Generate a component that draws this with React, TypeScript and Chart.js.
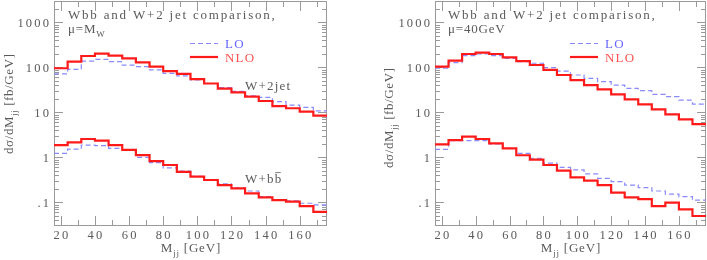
import React, { useEffect, useRef } from "react";
import { Chart, registerables } from "chart.js";
Chart.register(...registerables);

// ---------- data ----------
const binEdges = [16, 24, 32, 40, 48, 56, 64, 72, 80, 88, 96, 104, 112, 120, 128, 136, 144, 152, 160, 168, 176];
const xMajorTicks = [20, 40, 60, 80, 100, 120, 140, 160];
const xMinorTicks = [30, 50, 70, 90, 110, 130, 150, 170];
const yTickValues = [0.1, 1, 10, 100, 1000];
const yTickLabels = [".1", "1", "10", "100", "1000"];

// mu = M_W panel
const nloJetMW = [96, 135, 180, 203, 183, 160, 130, 104, 83, 72, 55, 44, 34, 28, 22.4, 18, 13.9, 12.4, 10.4, 8.5];
const loJetMW = [72, 91, 139, 152, 135, 113, 104, 88, 74, 65, 53, 44, 35.5, 29.5, 23.4, 21.7, 17.4, 14.6, 13, 10.8];
const nloBbMW = [1.89, 2.17, 2.57, 2.36, 1.89, 1.47, 1.13, 0.83, 0.68, 0.48, 0.374, 0.316, 0.244, 0.206, 0.16, 0.13, 0.113, 0.104, 0.083, 0.062];
const loBbMW = [1.23, 1.54, 1.89, 1.83, 1.6, 1.45, 1.0, 0.77, 0.59, 0.5, 0.38, 0.32, 0.26, 0.21, 0.18, 0.135, 0.113, 0.108, 0.096, 0.088];

// mu = 40 GeV panel
const nloJet40 = [104, 142, 199, 213, 199, 168, 139, 113.5, 88, 68, 52.6, 40.7, 32.7, 25.3, 19.6, 15.2, 11.7, 9.1, 7.0, 5.5];
const loJet40 = [96, 128, 183, 199, 183, 160, 135, 124, 99, 83, 68, 57.3, 48.3, 40.7, 34.3, 30.5, 25.3, 22.4, 18.9, 15.4];
const nloBb40 = [1.96, 2.44, 2.9, 2.57, 2.06, 1.6, 1.12, 0.9, 0.68, 0.51, 0.36, 0.305, 0.244, 0.165, 0.13, 0.119, 0.083, 0.099, 0.07, 0.05];
const loBb40 = [1.52, 2.36, 2.36, 2.36, 1.99, 1.6, 1.23, 0.96, 0.75, 0.6, 0.53, 0.43, 0.344, 0.29, 0.244, 0.213, 0.18, 0.154, 0.135, 0.113];

const titleText = "Wbb and W+2 jet comparison,";

// ---------- style ----------
const FONT = '"Liberation Serif", serif';
const AXIS_COLOR = "#9a9a9a";
const TEXT_COLOR = "#5a5a5a";
const RED = "#ff1a1a";
const BLUE = "#8a8aff";
const LO_TEXT = "#6464ff";
const NLO_TEXT = "#ff5050";

type Part = { t: string; sub?: boolean; over?: boolean };

function drawParts(
  ctx: CanvasRenderingContext2D,
  parts: Part[],
  x: number,
  y: number,
  size: number,
  color: string,
  align: "left" | "center" | "right",
  spacing: number
) {
  ctx.save();
  ctx.fillStyle = color;
  ctx.strokeStyle = color;
  ctx.textBaseline = "alphabetic";
  ctx.textAlign = "left";
  (ctx as any).letterSpacing = spacing + "px";
  const fMain = `${size}px ${FONT}`;
  const fSub = `${Math.round(size * 0.72)}px ${FONT}`;
  const widths = parts.map((p) => {
    ctx.font = p.sub ? fSub : fMain;
    return ctx.measureText(p.t).width;
  });
  const total = widths.reduce((a, b) => a + b, 0) - spacing;
  let cx = align === "left" ? x : align === "center" ? x - total / 2 : x - total;
  parts.forEach((p, i) => {
    ctx.font = p.sub ? fSub : fMain;
    const yy = p.sub ? y + size * 0.28 : y;
    ctx.fillText(p.t, cx, yy);
    if (p.over) {
      ctx.lineWidth = 0.8;
      ctx.beginPath();
      const oy = yy - size * 0.8;
      ctx.moveTo(cx + 0.5, oy);
      ctx.lineTo(cx + widths[i] - spacing - 0.5, oy);
      ctx.stroke();
    }
    cx += widths[i];
  });
  ctx.restore();
}

function stepPoints(values: number[]) {
  const pts = values.map((v, i) => ({ x: binEdges[i], y: v }));
  pts.push({ x: binEdges[binEdges.length - 1], y: values[values.length - 1] });
  return pts;
}

type Spec = {
  left: number;
  width: number;
  yAxisW: number;
  padRight: number;
  nloJet: number[];
  loJet: number[];
  nloBb: number[];
  loBb: number[];
  scaleParts: Part[];
  titleX: number;
  legendLineX: number;
  yTitleX: number;
  yTitleY: number;
  procLabels: boolean;
};

function Panel({ spec }: { spec: Spec }) {
  const ref = useRef<HTMLCanvasElement | null>(null);
  useEffect(() => {
    if (!ref.current) return;
    const s = spec;
    const decor = {
      id: "decor",
      beforeDatasetsDraw(chart: any) {
        const { ctx, chartArea: a, scales } = chart;
        const xs = scales.x;
        const ys = scales.y;
        ctx.save();
        ctx.strokeStyle = AXIS_COLOR;
        ctx.lineWidth = 1;
        ctx.strokeRect(a.left + 0.5, a.top + 0.5, a.right - a.left - 1, a.bottom - a.top - 1);
        ctx.beginPath();
        const xt = (v: number, len: number) => {
          const px = Math.round(xs.getPixelForValue(v)) + 0.5;
          ctx.moveTo(px, a.bottom);
          ctx.lineTo(px, a.bottom - len);
          ctx.moveTo(px, a.top);
          ctx.lineTo(px, a.top + len);
        };
        xMajorTicks.forEach((v) => xt(v, 10));
        xMinorTicks.forEach((v) => xt(v, 6));
        const yt = (v: number, len: number) => {
          const py = Math.round(ys.getPixelForValue(v)) + 0.5;
          if (py < a.top || py > a.bottom) return;
          ctx.moveTo(a.left, py);
          ctx.lineTo(a.left + len, py);
          ctx.moveTo(a.right, py);
          ctx.lineTo(a.right - len, py);
        };
        for (let d = 0.01; d < 5000; d *= 10) {
          for (let m = 1; m <= 9; m++) {
            const v = d * m;
            if (v < 0.03 || v > 3000) continue;
            yt(v, m === 1 ? 9 : 5);
          }
        }
        ctx.stroke();

        // tick labels
        xMajorTicks.forEach((v) => {
          drawParts(ctx, [{ t: String(v) }], xs.getPixelForValue(v), 239, 12.5, TEXT_COLOR, "center", 2.2);
        });
        yTickValues.forEach((v, i) => {
          const py = ys.getPixelForValue(v);
          drawParts(ctx, [{ t: yTickLabels[i] }], a.left - 5, py + 4.5, 12.5, TEXT_COLOR, "right", 2.2);
        });

        // axis titles
        drawParts(
          ctx,
          [{ t: "M" }, { t: "jj", sub: true }, { t: " [GeV]" }],
          (a.left + a.right) / 2,
          252,
          13,
          TEXT_COLOR,
          "center",
          0.8
        );
        ctx.save();
        ctx.translate(s.yTitleX, s.yTitleY);
        ctx.rotate(-Math.PI / 2);
        drawParts(
          ctx,
          [{ t: "d\u03c3/dM" }, { t: "jj", sub: true }, { t: " [fb/GeV]" }],
          0,
          0,
          13,
          TEXT_COLOR,
          "center",
          0.6
        );
        ctx.restore();
        ctx.restore();
      },
      afterDatasetsDraw(chart: any) {
        const { ctx } = chart;
        ctx.save();
        drawParts(ctx, [{ t: titleText }], s.titleX, 19, 13, TEXT_COLOR, "left", 1.8);
        drawParts(ctx, s.scaleParts, s.titleX, 33, 13, TEXT_COLOR, "left", 0.8);
        // legend
        const lx = s.legendLineX;
        ctx.lineWidth = 1.2;
        ctx.strokeStyle = BLUE;
        ctx.setLineDash([5, 3]);
        ctx.beginPath();
        ctx.moveTo(lx, 43.5);
        ctx.lineTo(lx + 28, 43.5);
        ctx.stroke();
        ctx.setLineDash([]);
        ctx.lineWidth = 2.2;
        ctx.strokeStyle = RED;
        ctx.beginPath();
        ctx.moveTo(lx, 57);
        ctx.lineTo(lx + 28, 57);
        ctx.stroke();
        drawParts(ctx, [{ t: "LO" }], lx + 35, 48, 13, LO_TEXT, "left", 1.2);
        drawParts(ctx, [{ t: "NLO" }], lx + 35, 61.5, 13, NLO_TEXT, "left", 1.2);
        if (s.procLabels) {
          drawParts(ctx, [{ t: "W+2jet" }], 245, 90, 13, TEXT_COLOR, "left", 1.2);
          drawParts(ctx, [{ t: "W+b" }, { t: "b", over: true }], 245, 183, 13, TEXT_COLOR, "left", 1.2);
        }
        ctx.restore();
      },
    };

    const line = (vals: number[], red: boolean) => ({
      data: stepPoints(vals),
      stepped: "before" as const,
      borderColor: red ? RED : BLUE,
      borderWidth: red ? 2.2 : 1.2,
      borderDash: red ? [] : [5, 3],
      pointRadius: 0,
      fill: false,
    });

    const chart = new Chart(ref.current, {
      type: "line",
      data: {
        datasets: [
          line(s.nloJet, true),
          line(s.nloBb, true),
          line(s.loJet, false),
          line(s.loBb, false),
        ] as any,
      },
      options: {
        animation: false,
        responsive: false,
        maintainAspectRatio: false,
        layout: { padding: { left: 0, right: s.padRight, top: 1, bottom: 0 } },
        plugins: { legend: { display: false }, tooltip: { enabled: false } },
        scales: {
          x: {
            type: "linear",
            min: 16,
            max: 176,
            grid: { display: false },
            border: { display: false },
            ticks: { display: false },
            afterFit: (sc: any) => {
              sc.height = 34;
            },
          },
          y: {
            type: "logarithmic",
            min: 0.03,
            max: 3000,
            grid: { display: false },
            border: { display: false },
            ticks: { display: false },
            afterFit: (sc: any) => {
              sc.width = s.yAxisW;
            },
          },
        },
      } as any,
      plugins: [decor],
    });
    return () => chart.destroy();
  }, [spec]);

  return (
    <canvas
      ref={ref}
      width={spec.width}
      height={260}
      style={{ position: "absolute", left: spec.left, top: 0, width: spec.width, height: 260, display: "block" }}
    />
  );
}

const leftSpec: Spec = {
  left: 0,
  width: 353,
  yAxisW: 54,
  padRight: 26,
  nloJet: nloJetMW,
  loJet: loJetMW,
  nloBb: nloBbMW,
  loBb: loBbMW,
  scaleParts: [{ t: "\u03bc=M" }, { t: "W", sub: true }],
  titleX: 68,
  legendLineX: 190,
  yTitleX: 13,
  yTitleY: 104,
  procLabels: true,
};

const rightSpec: Spec = {
  left: 353,
  width: 354,
  yAxisW: 82,
  padRight: 1,
  nloJet: nloJet40,
  loJet: loJet40,
  nloBb: nloBb40,
  loBb: loBb40,
  scaleParts: [{ t: "\u03bc=40GeV" }],
  titleX: 95,
  legendLineX: 217,
  yTitleX: 40,
  yTitleY: 118,
  procLabels: false,
};

export default function App() {
  return (
    <div style={{ position: "absolute", left: 0, top: 0, width: 707, height: 260, background: "#fff" }}>
      <Panel spec={leftSpec} />
      <Panel spec={rightSpec} />
    </div>
  );
}
